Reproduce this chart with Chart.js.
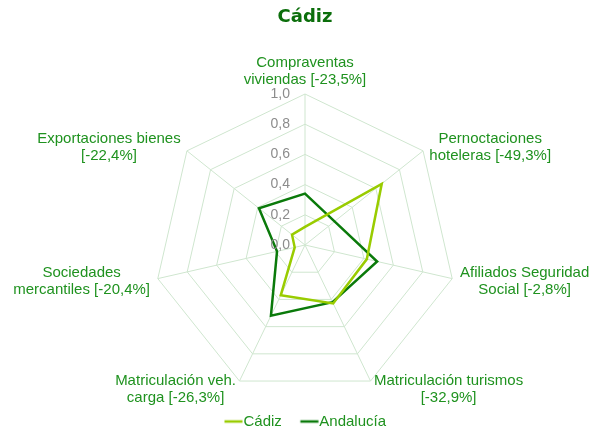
<!DOCTYPE html>
<html>
<head>
<meta charset="utf-8">
<script src="https://cdn.jsdelivr.net/npm/chart.js@4.4.1/dist/chart.umd.min.js"></script>
<style>
  html, body { margin: 0; padding: 0; background: #fff; }
  #wrap { width: 594px; height: 432px; }
</style>
</head>
<body>
<div id="wrap"><canvas id="myChart"></canvas></div>
<script>
const labels = [
  ["Compraventas", "viviendas [-23,5%]"],
  ["Pernoctaciones", "hoteleras [-49,3%]"],
  ["Afiliados Seguridad", "Social [-2,8%]"],
  ["Matriculación turismos", "[-32,9%]"],
  ["Matriculación veh.", "carga [-26,3%]"],
  ["Sociedades", "mercantiles [-20,4%]"],
  ["Exportaciones bienes", "[-22,4%]"]
];
const cadizValues = [0.12, 0.65, 0.42, 0.43, 0.37, 0.07, 0.11];
const andaluciaValues = [0.34, 0.25, 0.49, 0.42, 0.52, 0.19, 0.39];
const tickValues = [0, 0.2, 0.4, 0.6, 0.8, 1.0];

const labelFont = '15px "Liberation Sans", Arial, sans-serif';
const labelColor = '#1f921f';

// símbolo de la leyenda: una línea corta pegada al texto
function legendLine(color) {
  const c = document.createElement('canvas');
  c.width = 26;
  c.height = 6;
  const g = c.getContext('2d');
  g.fillStyle = color;
  g.fillRect(7.5, 1.75, 18, 2.5);
  return c;
}

// etiquetas de la escala y de los ejes, centradas como en el original
const radarTextPlugin = {
  id: 'radarText',
  afterDatasetsDraw(chart) {
    const r = chart.scales.r;
    const ctx = chart.ctx;
    ctx.save();

    ctx.font = '14px "Liberation Sans", Arial, sans-serif';
    ctx.fillStyle = '#8c8c8c';
    ctx.textAlign = 'right';
    ctx.textBaseline = 'middle';
    tickValues.forEach(v => {
      const y = r.yCenter - r.getDistanceFromCenterForValue(v);
      ctx.fillText(v.toFixed(1).replace('.', ','), r.xCenter - 15, y);
    });

    ctx.font = labelFont;
    ctx.fillStyle = labelColor;
    ctx.textAlign = 'center';
    const lh = 17;
    labels.forEach((lines, i) => {
      const p = r.getPointPosition(i, r.drawingArea + 8);
      const w = Math.max(...lines.map(t => ctx.measureText(t).width));
      const dx = p.x - r.xCenter;
      let cx = p.x;
      if (dx > 5) cx = p.x + w / 2;
      else if (dx < -5) cx = p.x - w / 2;
      let top;
      if (Math.abs(dx) <= 5) top = p.y + 2 - lines.length * lh;
      else top = p.y + 1 - lines.length * lh / 2;
      lines.forEach((t, k) => ctx.fillText(t, cx, top + lh * k + lh / 2));
    });
    ctx.restore();
  }
};

new Chart(document.getElementById('myChart'), {
  type: 'radar',
  data: {
    labels: labels,
    datasets: [
      {
        label: 'Cádiz',
        data: cadizValues,
        borderColor: '#99cc00',
        backgroundColor: '#99cc00',
        borderWidth: 2.5,
        fill: false,
        pointRadius: 0,
        pointHoverRadius: 0,
        pointStyle: legendLine('#99cc00')
      },
      {
        label: 'Andalucía',
        data: andaluciaValues,
        borderColor: '#0a7a0a',
        backgroundColor: '#0a7a0a',
        borderWidth: 2.5,
        fill: false,
        pointRadius: 0,
        pointHoverRadius: 0,
        pointStyle: legendLine('#0a7a0a')
      }
    ]
  },
  options: {
    responsive: true,
    maintainAspectRatio: false,
    animation: false,
    layout: { padding: { top: 0, bottom: -7, left: 16, right: 0 } },
    elements: { line: { tension: 0 } },
    scales: {
      r: {
        min: 0,
        max: 1,
        ticks: { display: false, stepSize: 0.2 },
        grid: { color: '#cfe6cf', lineWidth: 1 },
        angleLines: { color: '#cfe6cf', lineWidth: 1 },
        pointLabels: { display: false }
      }
    },
    plugins: {
      title: {
        display: true,
        text: 'Cádiz',
        color: '#0b6e0b',
        font: { family: '"DejaVu Sans", Verdana, sans-serif', size: 18, weight: 'bold', lineHeight: 1.2 },
        padding: { top: 7, bottom: 65.4 }
      },
      legend: {
        position: 'bottom',
        labels: {
          usePointStyle: true,
          pointStyleWidth: 12,
          color: labelColor,
          font: { family: '"Liberation Sans", Arial, sans-serif', size: 15 },
          padding: 18
        }
      },
      tooltip: { enabled: false }
    }
  },
  plugins: [radarTextPlugin]
});
</script>
</body>
</html>
